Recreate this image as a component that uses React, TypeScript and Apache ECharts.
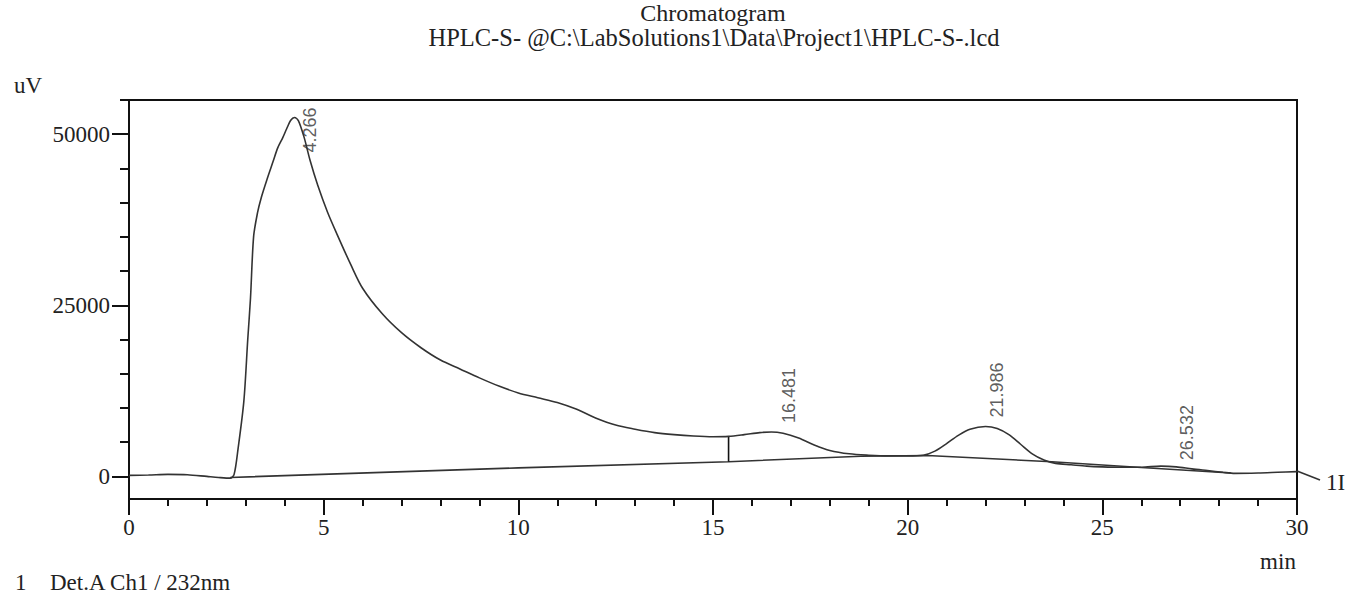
import React, { useEffect, useRef } from "react";
import * as echarts from "echarts";

// ---- data ----
const times: number[] = [
  0, 0.5, 1.0, 1.5, 2.0, 2.3, 2.6, 2.7, 2.8, 2.95, 3.05, 3.12, 3.2, 3.3, 3.4, 3.55, 3.7, 3.82, 3.95,
  4.05, 4.15, 4.25, 4.35, 4.5, 4.65, 4.85, 5.1, 5.35, 5.7, 6.0, 6.5, 7.0, 7.5, 8.0, 8.5, 9.0, 9.5,
  10.0, 10.5, 11.0, 11.5, 12.0, 12.5, 13.0, 13.5, 14.0, 14.5, 15.0, 15.4, 15.8, 16.2, 16.5, 16.8,
  17.2, 17.6, 18.0, 18.5, 19.0, 19.5, 20.0, 20.4, 20.7, 21.0, 21.3, 21.6, 22.0, 22.3, 22.6, 22.9,
  23.2, 23.5, 23.8, 24.2, 24.6, 25.0, 25.5, 26.0, 26.5, 26.9, 27.3, 27.7, 28.1, 28.4, 29.0, 29.5, 30.0,
];
const signal: number[] = [
  150, 200, 300, 250, 0, -150, -250, 300, 4000, 11000, 20000, 26000, 35000, 38500, 40800, 43500, 46000, 48000, 49500,
  50800, 52000, 52450, 52000, 49500, 46200, 42500, 38600, 35300, 30900, 27500, 23800, 21000, 18800, 17000, 15700, 14400, 13200,
  12200, 11500, 10800, 9800, 8500, 7500, 6900, 6400, 6100, 5900, 5800, 5850, 6100, 6400, 6500, 6300,
  5600, 4600, 3800, 3300, 3100, 3000, 3000, 3100, 3700, 4800, 6000, 6900, 7300, 7000, 6100, 4700,
  3300, 2400, 1900, 1700, 1500, 1400, 1350, 1350, 1500, 1400, 1100, 850, 600, 450, 500, 600, 700,
];
const baselineTimes: number[] = [2.6, 10, 15.4, 18.8, 20.5, 23.7, 26.0, 28.3];
const baselineValues: number[] = [-150, 1250, 2150, 2950, 3050, 2150, 1300, 500];
const dropTime = 15.4;
const dropValues: number[] = [2150, 5850];

const peakTimes: number[] = [4.266, 16.481, 21.986, 26.532];
const peakHeights: number[] = [52450, 6500, 7300, 1500];
const peakLabels: string[] = ["4.266", "16.481", "21.986", "26.532"];

const xTicks = { min: 0, max: 30, step: 5 };
const yMajorTicks: number[] = [0, 25000, 50000];
const yMinorTicks: number[] = [0, 5000, 10000, 15000, 20000, 25000, 30000, 35000, 40000, 45000, 50000, 55000];
const yRange = { min: -3300, max: 55000 };

const titleLine1 = "Chromatogram";
const titleLine2 = "HPLC-S- @C:\\LabSolutions1\\Data\\Project1\\HPLC-S-.lcd";
const yUnit = "uV";
const xUnit = "min";
const legendText = "Det.A Ch1 / 232nm";

// label placement (styling)
const labelOffsets: [number, number][] = [
  [15, 35],
  [18, -9],
  [12, -9],
  [25, -6],
];

const SERIF = "'Liberation Serif', 'Times New Roman', serif";
const SANS = "'Liberation Sans', Arial, sans-serif";

export default function App() {
  const ref = useRef<HTMLDivElement>(null);
  useEffect(() => {
    if (!ref.current) return;
    const chart = echarts.init(ref.current, undefined, { renderer: "svg" });
    const trace = times.map((t, i) => [t, signal[i]]);
    const base = baselineTimes.map((t, i) => [t, baselineValues[i]]);
    const drop = dropValues.map((v) => [dropTime, v]);
    const peaks = peakTimes.map((t, i) => ({
      value: [t, peakHeights[i]],
      label: { position: labelOffsets[i], formatter: peakLabels[i] },
    }));
    const lineColor = "#333";
    chart.setOption({
      animation: false,
      backgroundColor: "#fff",
      grid: {
        left: 129,
        right: 54,
        top: 100,
        bottom: 101,
        show: true,
        borderColor: "#111",
        borderWidth: 2,
        backgroundColor: "transparent",
      },
      xAxis: {
        type: "value",
        min: xTicks.min,
        max: xTicks.max,
        interval: xTicks.step,
        axisLine: { show: true, onZero: false, lineStyle: { color: "#111", width: 2 } },
        axisTick: { show: true, inside: false, length: 16, lineStyle: { color: "#111", width: 2 } },
        minorTick: { show: true, splitNumber: 5, length: 7, lineStyle: { color: "#111", width: 2 } },
        axisLabel: { fontFamily: SERIF, fontSize: 23, color: "#222", margin: 17 },
        splitLine: { show: false },
      },
      yAxis: [
        {
          type: "value",
          min: yRange.min,
          max: yRange.max,
          position: "left",
          axisLine: { show: true, onZero: false, lineStyle: { color: "#111", width: 2 } },
          axisTick: { show: true, length: 17, customValues: yMajorTicks, lineStyle: { color: "#111", width: 2 } },
          axisLabel: {
            customValues: yMajorTicks,
            formatter: (v: number) => String(Math.round(v)),
            fontFamily: SERIF,
            fontSize: 23,
            color: "#222",
            margin: 19,
          },
          splitLine: { show: false },
        },
        {
          type: "value",
          min: yRange.min,
          max: yRange.max,
          position: "left",
          axisLine: { show: false },
          axisTick: { show: true, length: 9, customValues: yMinorTicks, lineStyle: { color: "#111", width: 2 } },
          axisLabel: { show: false },
          splitLine: { show: false },
        },
      ],
      series: [
        {
          type: "line",
          data: trace,
          showSymbol: false,
          smooth: 0.3,
          lineStyle: { color: lineColor, width: 1.6 },
          z: 3,
        },
        {
          type: "line",
          data: base,
          showSymbol: false,
          lineStyle: { color: lineColor, width: 1.6 },
          z: 2,
        },
        {
          type: "line",
          data: drop,
          showSymbol: false,
          lineStyle: { color: "#111", width: 1.6 },
          z: 2,
        },
        {
          type: "scatter",
          data: peaks,
          symbolSize: 0,
          z: 4,
          label: {
            show: true,
            rotate: 90,
            align: "left",
            verticalAlign: "middle",
            fontFamily: SANS,
            fontSize: 18,
            color: "#333",
          },
        },
      ],
      graphic: [
        {
          type: "text",
          x: 713,
          y: 13,
          style: { text: titleLine1, fontFamily: SERIF, fontSize: 24, fill: "#222", align: "center", verticalAlign: "middle" },
        },
        {
          type: "text",
          x: 714,
          y: 37,
          style: { text: titleLine2, fontFamily: SERIF, fontSize: 24.5, fill: "#222", align: "center", verticalAlign: "middle" },
        },
        {
          type: "text",
          x: 42,
          y: 85,
          style: { text: yUnit, fontFamily: SERIF, fontSize: 23, fill: "#222", align: "right", verticalAlign: "middle" },
        },
        {
          type: "text",
          x: 1278,
          y: 561,
          style: { text: xUnit, fontFamily: SERIF, fontSize: 23, fill: "#222", align: "center", verticalAlign: "middle" },
        },
        {
          type: "text",
          x: 15,
          y: 582,
          style: { text: "1", fontFamily: SERIF, fontSize: 23, fill: "#222", align: "left", verticalAlign: "middle" },
        },
        {
          type: "text",
          x: 50,
          y: 582,
          style: { text: legendText, fontFamily: SERIF, fontSize: 23, fill: "#222", align: "left", verticalAlign: "middle" },
        },
        {
          type: "line",
          shape: { x1: 1297, y1: 471, x2: 1320, y2: 480 },
          style: { stroke: lineColor, lineWidth: 1.6 },
        },
        {
          type: "text",
          x: 1326,
          y: 482,
          style: { text: "1I", fontFamily: SERIF, fontSize: 23, fill: "#222", align: "left", verticalAlign: "middle" },
        },
      ],
    });
    return () => chart.dispose();
  }, []);
  return <div ref={ref} style={{ width: 1351, height: 600, position: "absolute", left: 0, top: 0 }} />;
}
